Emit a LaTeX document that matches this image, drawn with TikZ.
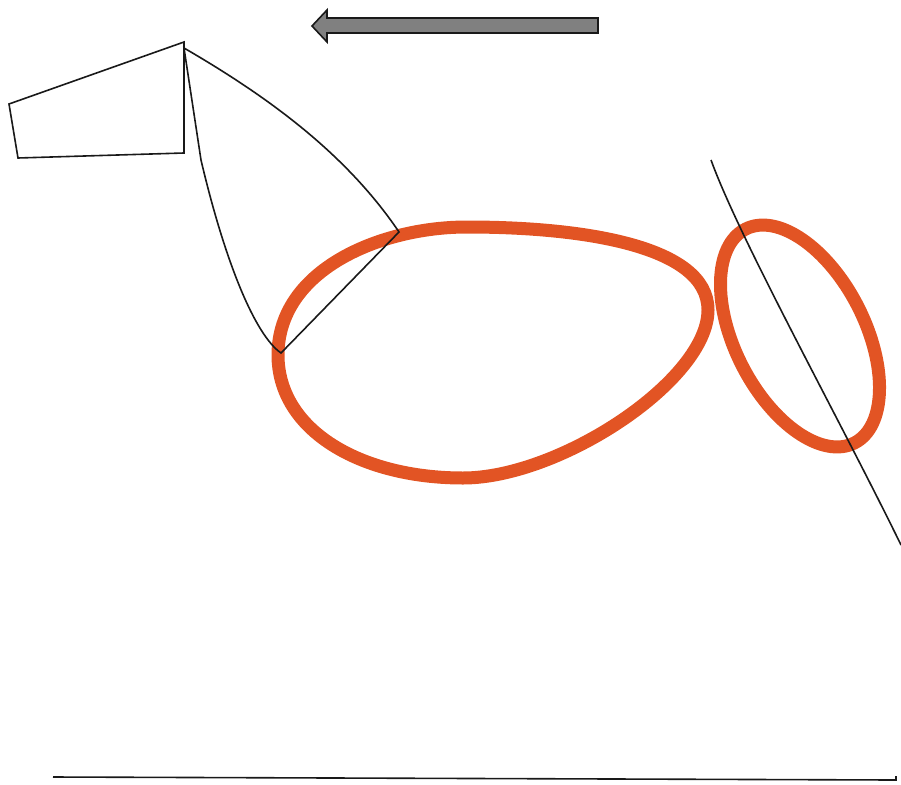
\documentclass[tikz,border=0pt]{standalone}
\definecolor{loopred}{RGB}{226,84,36}
\definecolor{arrowgray}{RGB}{128,128,128}
\begin{document}
\begin{tikzpicture}[x=1pt,y=-1pt,
  thinline/.style={draw=black!90,line width=1.6pt,line join=miter},
  loopline/.style={draw=loopred,line width=13pt}]
\useasboundingbox (0,0) rectangle (901,784);
\draw[thinline,fill=arrowgray] (598,18) -- (327,18) -- (327,10) -- (312,26) -- (327,42) -- (327,33) -- (598,33) -- cycle;
\draw[thinline] (9,104) -- (184,42) -- (184,153) -- (18,158) -- cycle;
\draw[loopline] (278,355) .. controls (278,270) and (380,227) .. (467,227)
  .. controls (580,227) and (708,245) .. (708,310)
  .. controls (708,380) and (560,478) .. (463,478)
  .. controls (360,478) and (278,430) .. (278,355) -- cycle;
\draw[loopline,rotate around={-63:(800,336)}] (800,336) ellipse (120 and 65);
\draw[thinline] (184,48) .. controls (265,95) and (345,152) .. (399,232) -- (281,353) .. controls (255,335) and (225,262) .. (201,160) -- cycle;
\draw[thinline] (711,160) .. controls (740,240) and (840,420) .. (901,545);
\draw[thinline] (53,777) -- (896,780) -- (896,776);
\end{tikzpicture}
\end{document}
